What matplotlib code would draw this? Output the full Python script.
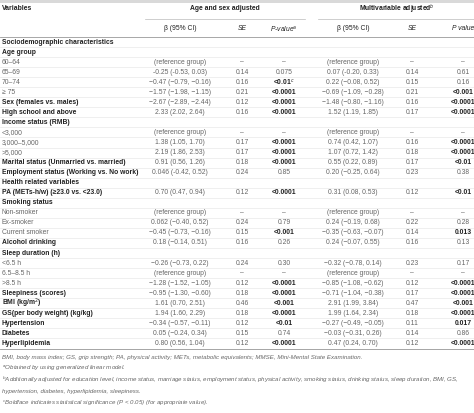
import matplotlib.pyplot as plt

plt.rcParams['font.family'] = ['Liberation Sans', 'DejaVu Sans']

variables = ["Sociodemographic characteristics", "Age group", "60–64", "65–69", "70–74", "\u2265 75",
             "Sex (females vs. males)", "High school and above", "Income status (RMB)", "<3,000",
             "3,000–5,000", ">5,000", "Marital status (Unmarried vs. married)",
             "Employment status (Working vs. No work)", "Health related variables",
             "PA (METs-h/w) (\u226523.0 vs. <23.0)", "Smoking status", "Non-smoker", "Ex-smoker",
             "Current smoker", "Alcohol drinking", "Sleep duration (h)", "<6.5 h", "6.5–8.5 h",
             ">8.5 h", "Sleepiness (scores)", "BMI (kg/m$^2$)", "GS(per body weight) (kg/kg)",
             "Hypertension", "Diabetes", "Hyperlipidemia"]
var_bold = [1, 1, 0, 0, 0, 0, 1, 1, 1, 0, 0, 0, 1, 1, 1, 1, 1, 0, 0, 0, 1, 1, 0, 0, 0, 1, 1, 1, 1, 1, 1]

beta1 = ["", "", "(reference group)", "-0.25 (-0.53, 0.03)", "−0.47 (−0.79, −0.16)", "−1.57 (−1.98, −1.15)",
         "−2.67 (−2.89, −2.44)", "2.33 (2.02, 2.64)", "", "(reference group)", "1.38 (1.05, 1.70)",
         "2.19 (1.86, 2.53)", "0.91 (0.56, 1.26)", "0.046 (-0.42, 0.52)", "", "0.70 (0.47, 0.94)", "",
         "(reference group)", "0.062 (−0.40, 0.52)", "−0.45 (−0.73, −0.16)", "0.18 (−0.14, 0.51)", "",
         "−0.26 (−0.73, 0.22)", "(reference group)", "−1.28 (−1.52, −1.05)", "−0.95 (−1.30, −0.60)",
         "1.61 (0.70, 2.51)", "1.94 (1.60, 2.29)", "−0.34 (−0.57, −0.11)", "0.05 (−0.24, 0.34)",
         "0.80 (0.56, 1.04)"]
se1 = ["", "", "–", "0.14", "0.16", "0.21", "0.12", "0.16", "", "–", "0.17", "0.17", "0.18", "0.24", "",
       "0.12", "", "–", "0.24", "0.15", "0.16", "", "0.24", "–", "0.12", "0.18", "0.46", "0.18", "0.12",
       "0.15", "0.12"]
p1 = ["", "", "–", "0.075", "<0.01$^c$", "<0.0001", "<0.0001", "<0.0001", "", "–", "<0.0001", "<0.0001",
      "<0.0001", "0.85", "", "<0.0001", "", "–", "0.79", "<0.001", "0.26", "", "0.30", "–", "<0.0001",
      "<0.0001", "<0.001", "<0.0001", "<0.01", "0.74", "<0.0001"]
beta2 = ["", "", "(reference group)", "0.07 (-0.20, 0.33)", "0.22 (−0.08, 0.52)", "−0.69 (−1.09, −0.28)",
         "−1.48 (−0.80, −1.16)", "1.52 (1.19, 1.85)", "", "(reference group)", "0.74 (0.42, 1.07)",
         "1.07 (0.72, 1.42)", "0.55 (0.22, 0.89)", "0.20 (−0.25, 0.64)", "", "0.31 (0.08, 0.53)", "",
         "(reference group)", "0.24 (−0.19, 0.68)", "−0.35 (−0.63, −0.07)", "0.24 (−0.07, 0.55)", "",
         "−0.32 (−0.78, 0.14)", "(reference group)", "−0.85 (−1.08, −0.62)", "−0.71 (−1.04, −0.38)",
         "2.91 (1.99, 3.84)", "1.99 (1.64, 2.34)", "−0.27 (−0.49, −0.05)", "−0.03 (−0.31, 0.26)",
         "0.47 (0.24, 0.70)"]
se2 = ["", "", "–", "0.14", "0.15", "0.21", "0.16", "0.17", "", "–", "0.16", "0.18", "0.17", "0.23", "",
       "0.12", "", "–", "0.22", "0.14", "0.16", "", "0.23", "–", "0.12", "0.17", "0.47", "0.18", "0.11",
       "0.14", "0.12"]
p2 = ["", "", "–", "0.61", "0.16", "<0.001", "<0.0001", "<0.0001", "", "–", "<0.0001", "<0.0001",
      "<0.01", "0.38", "", "<0.01", "", "–", "0.28", "0.013", "0.13", "", "0.17", "–", "<0.0001",
      "<0.0001", "<0.001", "<0.0001", "0.017", "0.86", "<0.0001"]

footnotes = ["BMI, body mass index; GS, grip strength; PA, physical activity; METs, metabolic equivalents; MMSE, Mini-Mental State Examination.",
             "$^a$Obtained by using generalized linear model.",
             "$^b$Additionally adjusted for education level, income status, marriage status, employment status, physical activity, smoking status, drinking status, sleep duration, BMI, GS,",
             "hypertension, diabetes, hyperlipidemia, sleepiness.",
             "$^c$Boldface indicates statistical significance (P < 0.05) (for appropriate value)."]

W, H = 474, 413
fig = plt.figure(figsize=(W / 100, H / 100), dpi=100)
ax = fig.add_axes([0, 0, 1, 1])
ax.set_xlim(0, W)
ax.set_ylim(H, 0)
ax.axis('off')

fs = 4.9
dark = '#222222'
grey = '#666666'
ax.axhspan(0, 3, color='#d9d9d9', lw=0)

ax.text(2, 9, "Variables", fontsize=fs, fontweight='bold', color=dark, va='center')
ax.text(225, 9, "Age and sex adjusted", fontsize=fs, fontweight='bold', color=dark, va='center', ha='center')
ax.text(397, 9, "Multivariable adjusted$^b$", fontsize=fs, fontweight='bold', color=dark, va='center', ha='center')
ax.plot([145, 305], [19, 19], color='#bbbbbb', lw=0.5)
ax.plot([318, 474], [19, 19], color='#bbbbbb', lw=0.5)
sub = [(180, "β (95% CI)"), (242, "SE"), (284, "P-value$^a$"), (353, "β (95% CI)"), (412, "SE"), (463, "P value")]
for x, s in sub:
    st = 'italic' if s in ("SE",) or s.startswith("P") else 'normal'
    ax.text(x, 29, s, fontsize=fs, color=dark, va='center', ha='center', style=st)
ax.plot([0, W], [36.5, 36.5], color='#999999', lw=0.6)

y0, dy = 42, 10.05
for i, v in enumerate(variables):
    y = y0 + i * dy
    ax.text(2, y, v, fontsize=fs, va='center', color=dark if var_bold[i] else grey,
            fontweight='bold' if var_bold[i] else 'normal')
    for x, col in [(180, beta1), (353, beta2)]:
        ax.text(x, y, col[i], fontsize=fs, va='center', ha='center', color=grey)
    for x, col in [(242, se1), (412, se2)]:
        ax.text(x, y, col[i], fontsize=fs, va='center', ha='center', color=grey)
    for x, col in [(284, p1), (463, p2)]:
        s = col[i]
        bold = s.startswith("<") or s == "0.013" or s == "0.017"
        ax.text(x, y, s, fontsize=fs, va='center', ha='center', color=dark if bold else grey,
                fontweight='bold' if bold else 'normal')
    ax.plot([0, W], [y + dy / 2, y + dy / 2], color='#e3e3e3', lw=0.4)

ax.plot([0, W], [y0 + (len(variables) - 0.5) * dy, y0 + (len(variables) - 0.5) * dy], color='#999999', lw=0.6)

for j, f in enumerate(footnotes):
    ax.text(2, 357 + j * 11.5, f, fontsize=4.4, style='italic', color=grey, va='center')

fig.savefig("out.png", dpi=100)
